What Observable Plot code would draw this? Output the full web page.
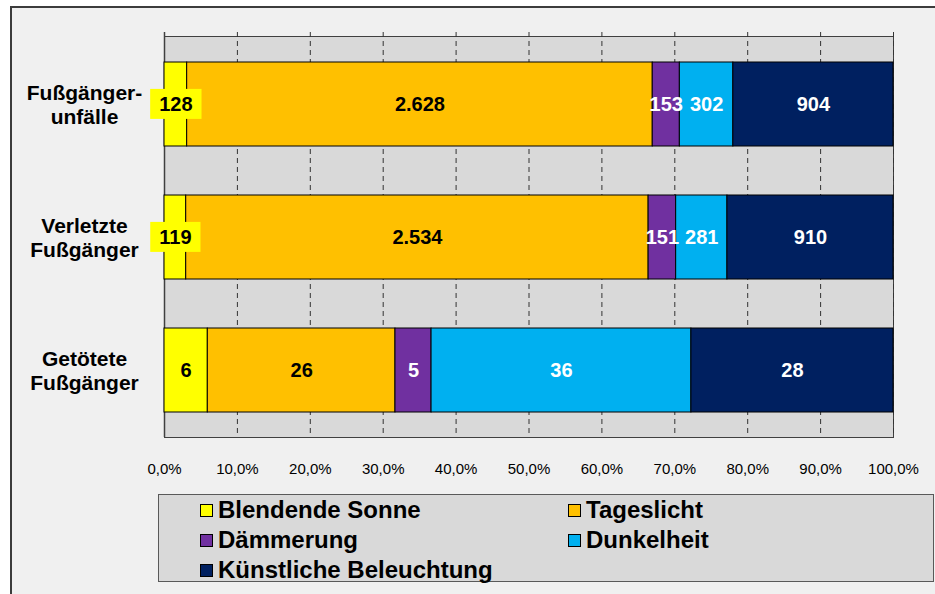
<!DOCTYPE html>
<html>
<head>
<meta charset="utf-8">
<script src="https://cdn.jsdelivr.net/npm/d3@7"></script>
<script src="https://cdn.jsdelivr.net/npm/@observablehq/plot@0.6"></script>
<style>
  html, body { margin: 0; padding: 0; background: #ffffff; }
  body { width: 935px; height: 594px; position: relative; overflow: hidden; font-family: "Liberation Sans", Arial, sans-serif; }
  #frame { position: absolute; left: 10px; top: 6px; width: 1000px; height: 700px; border: 2px solid #3c3c3c; background: #f0f0f0; }
  #chart { position: absolute; left: 0; top: 0; }
  #legend { position: absolute; left: 158px; top: 494px; width: 733px; height: 86px; border: 1px solid #595959; background: #d9d9d9;
            display: grid; grid-template-columns: 368px 300px; grid-auto-rows: 30px; padding-left: 41px; box-sizing: content-box; }
  #legend .item { display: flex; align-items: center; font-weight: bold; font-size: 24px; color: #000; white-space: nowrap; }
  #legend .sw { width: 11px; height: 11px; border: 1px solid #000; margin-right: 5px; flex: none; }
</style>
</head>
<body>
<div id="frame"></div>
<div id="chart"></div>
<div id="legend"></div>
<script>
const categories = ["Blendende Sonne", "Tageslicht", "Dämmerung", "Dunkelheit", "Künstliche Beleuchtung"];
const groups = ["Fußgänger-\nunfälle", "Verletzte\nFußgänger", "Getötete\nFußgänger"];
const blendendeSonne = [128, 119, 6];
const tageslicht = [2628, 2534, 26];
const daemmerung = [153, 151, 5];
const dunkelheit = [302, 281, 36];
const kuenstlicheBeleuchtung = [904, 910, 28];
const colors = ["#ffff00", "#ffc000", "#7030a0", "#00b0f0", "#002060"];
const xTicks = [0, 0.1, 0.2, 0.3, 0.4, 0.5, 0.6, 0.7, 0.8, 0.9, 1.0];

const series = [blendendeSonne, tageslicht, daemmerung, dunkelheit, kuenstlicheBeleuchtung];
const data = categories.flatMap((cat, ci) => series[ci].map((v, gi) => ({group: groups[gi], cat, value: v})));

const de = d3.formatLocale({decimal: ",", thousands: ".", grouping: [3], currency: ["", " €"]});
const fmt = de.format(",d");
const pct = de.format(".1%");

const labelOpts = {x: "value", y: "group", offset: "normalize", fontSize: 20, fontWeight: "bold"};

const chart = Plot.plot({
  width: 935,
  height: 490,
  marginLeft: 164,
  marginRight: 42,
  marginTop: 36,
  marginBottom: 53,
  style: {background: "transparent", fontFamily: "'Liberation Sans', Arial, sans-serif", fontSize: "15px", color: "#000"},
  x: {domain: [0, 1], ticks: xTicks, tickFormat: pct, tickSize: 0, tickPadding: 26, label: null},
  y: {domain: groups, axis: null, paddingInner: 0.37, paddingOuter: 0.185},
  color: {domain: categories, range: colors},
  marks: [
    Plot.frame({fill: "#d9d9d9", stroke: "#404040"}),
    Plot.ruleX(xTicks.slice(1), {stroke: "#333", strokeDasharray: "5,4", insetTop: -4}),
    Plot.ruleX([0], {stroke: "#404040", strokeWidth: 1.5, insetTop: -4}),
    Plot.barX(data, Plot.stackX({x: "value", y: "group", fill: "cat", stroke: "#000", strokeWidth: 1, offset: "normalize"})),
    Plot.text(data, Plot.stackX({...labelOpts, text: d => d.cat === categories[0] ? fmt(d.value) : null, fill: "#000"})),
    Plot.text(data, Plot.stackX({...labelOpts, text: d => d.cat === categories[1] ? fmt(d.value) : null, fill: "#000"})),
    Plot.text(data, Plot.stackX({...labelOpts, text: d => (d.cat !== categories[0] && d.cat !== categories[1]) ? fmt(d.value) : null, fill: "#fff"})),
    Plot.text(groups, {y: d => d, text: d => d, frameAnchor: "left", dx: -80, textAnchor: "middle", fontSize: 21, fontWeight: "bold", lineHeight: 1.15, fill: "#000"})
  ]
});

document.getElementById("chart").append(chart);

// yellow background boxes behind the "Blendende Sonne" labels
const svgNS = "http://www.w3.org/2000/svg";
const textGroups = chart.querySelectorAll('g[aria-label="text"]');
if (textGroups.length) {
  textGroups[0].querySelectorAll("text").forEach(t => {
    const b = t.getBBox();
    const r = document.createElementNS(svgNS, "rect");
    r.setAttribute("x", b.x - 9);
    r.setAttribute("y", b.y - 4);
    r.setAttribute("width", b.width + 18);
    r.setAttribute("height", b.height + 8);
    r.setAttribute("fill", colors[0]);
    const tr = t.getAttribute("transform");
    if (tr) r.setAttribute("transform", tr);
    t.parentNode.insertBefore(r, t);
  });
}

// legend
const legend = document.getElementById("legend");
categories.forEach((c, i) => {
  const item = document.createElement("div");
  item.className = "item";
  const sw = document.createElement("span");
  sw.className = "sw";
  sw.style.background = colors[i];
  const tx = document.createElement("span");
  tx.textContent = c;
  item.append(sw, tx);
  legend.append(item);
});
</script>
</body>
</html>
